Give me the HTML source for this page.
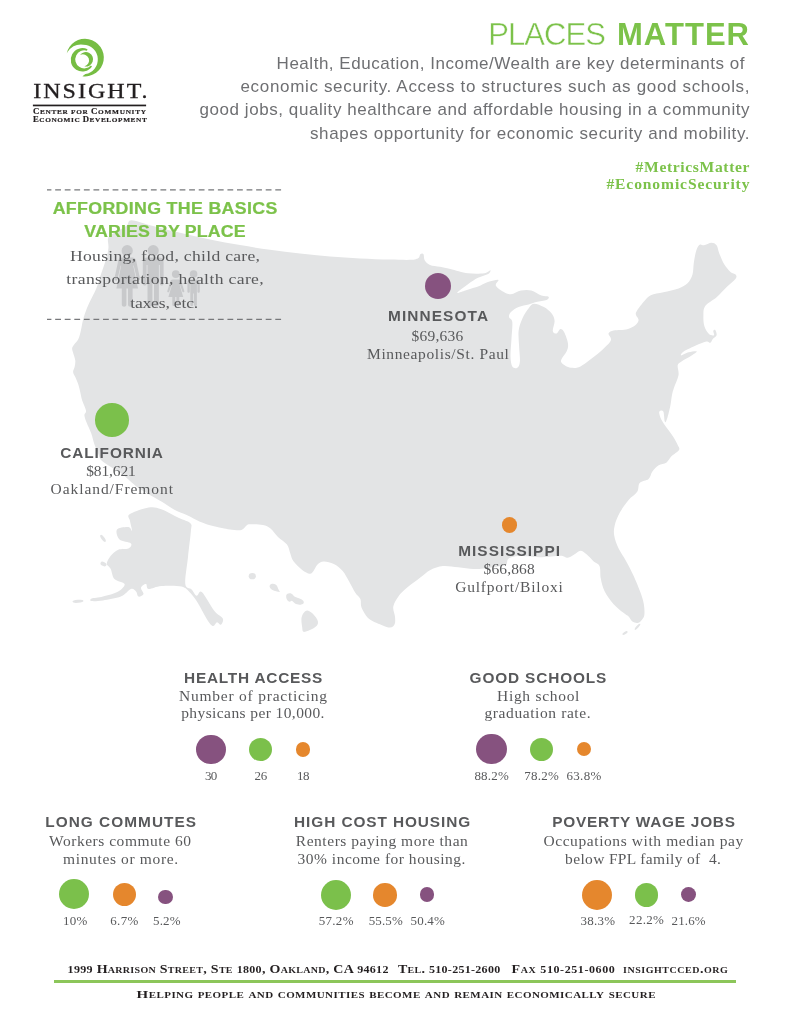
<!DOCTYPE html>
<html lang="en">
<head>
<meta charset="utf-8">
<title>Places Matter</title>
<style>
html,body{margin:0;padding:0;background:#fff;}
body{width:790px;height:1024px;position:relative;overflow:hidden;font-family:"Liberation Sans",sans-serif;color:#58595b;}
.abs{position:absolute;white-space:nowrap;}
.sans{font-family:"Liberation Sans",sans-serif;}
.serif{font-family:"Liberation Serif",serif;}
#map{position:absolute;left:0;top:0;width:790px;height:1024px;}
.intro{color:#6e6f72;}
.hdc{color:#58595b;}
.tx{color:#58595b;}
.c{font-size:8.7px;}
.dg{font-size:0.86em;}
.dot{position:absolute;border-radius:50%;}
.g{background:#7bc04b;}.p{background:#86527f;}.o{background:#e5872d;}
</style>
</head>
<body>
<svg id="map" viewBox="0 0 790 1024">
  <g fill="#e3e4e5">
    <path d="M131.4 220.3C127.5 220.4 129.0 223.8 126.8 225.6C124.6 227.4 120.8 229.3 118.0 231.0C115.2 232.7 111.8 234.1 110.1 235.5C108.4 236.9 108.2 237.2 107.9 239.3C107.6 241.5 108.8 244.8 108.4 248.4C108.0 252.0 106.8 256.3 105.6 260.6C104.4 264.9 102.5 269.6 101.0 274.2C99.5 278.8 98.0 284.1 96.5 287.9C95.0 291.7 93.8 293.6 92.2 297.0C90.6 300.4 88.5 304.2 87.0 308.0C85.5 311.8 84.0 316.3 83.0 320.0C82.0 323.7 81.8 326.8 81.0 330.0C80.2 333.2 79.6 336.5 78.4 339.0C77.2 341.5 75.0 343.2 74.0 344.8C73.0 346.4 72.2 347.1 72.1 348.6C72.0 350.1 72.9 351.7 73.4 353.7C73.9 355.7 75.1 358.4 75.3 360.6C75.5 362.8 75.0 365.1 74.6 367.0C74.2 368.9 73.0 370.3 73.1 372.0C73.2 373.7 74.4 375.0 75.3 377.1C76.2 379.2 77.6 382.2 78.4 384.7C79.2 387.2 79.7 389.7 80.3 392.3C80.9 394.9 81.2 397.4 82.2 400.5C83.2 403.6 85.6 408.2 86.0 410.6C86.4 413.1 84.3 413.2 84.4 415.2C84.5 417.2 85.6 419.8 86.7 422.8C87.8 425.8 90.0 429.9 91.3 433.4C92.6 436.9 93.2 440.7 94.3 444.0C95.4 447.3 97.0 450.5 98.1 453.2C99.2 455.9 99.3 458.0 101.0 460.0C102.7 462.0 105.0 463.1 108.2 465.2C111.4 467.3 116.9 470.3 120.4 472.8C124.0 475.3 126.5 477.9 129.5 480.4C132.5 482.9 135.0 485.5 138.6 488.0C142.2 490.5 147.0 493.3 150.8 495.6C154.6 497.9 157.6 499.3 161.4 501.6C165.2 503.9 169.2 506.9 173.5 509.2C177.8 511.5 182.9 513.3 187.2 515.3C191.5 517.3 195.6 519.8 199.4 521.4C203.2 523.0 206.2 524.1 210.0 525.2C213.8 526.3 218.7 527.3 222.0 528.0C225.3 528.7 226.8 529.1 230.0 529.4C233.2 529.7 238.7 530.6 241.4 530.0C244.2 529.4 245.1 526.6 246.5 525.6C247.9 524.6 247.3 524.4 250.0 524.3C252.7 524.2 259.5 524.3 262.9 525.0C266.3 525.7 268.0 526.6 270.5 528.6C273.0 530.6 275.2 534.3 278.0 537.0C280.8 539.7 284.9 541.9 287.0 544.6C289.1 547.3 289.2 550.7 290.3 553.4C291.4 556.1 291.3 558.2 293.3 561.0C295.3 563.8 299.5 567.8 302.2 569.9C304.9 572.0 307.8 573.5 309.7 573.7C311.6 573.9 312.2 572.5 313.5 571.0C314.8 569.5 315.6 566.4 317.3 564.8C319.0 563.2 320.9 561.6 323.7 561.5C326.4 561.4 330.6 562.4 333.8 564.0C337.0 565.6 340.2 568.1 342.7 571.0C345.2 573.9 346.9 577.7 349.0 581.3C351.1 584.9 353.4 589.8 355.3 592.7C357.2 595.7 359.3 596.5 360.4 599.0C361.4 601.5 360.3 604.6 361.6 607.8C362.9 611.0 365.5 615.5 368.0 618.0C370.5 620.5 373.2 621.4 376.8 623.0C380.4 624.6 386.5 627.4 389.5 627.6C392.5 627.8 393.7 626.1 394.6 624.3C395.5 622.5 395.2 619.7 395.0 616.7C394.8 613.8 392.7 610.0 393.3 606.6C393.9 603.2 396.1 599.7 398.4 596.5C400.7 593.3 403.5 590.8 407.2 587.6C410.9 584.4 416.4 580.5 420.3 577.5C424.2 574.5 426.6 571.8 430.4 569.9C434.2 568.0 438.4 566.4 443.0 566.0C447.6 565.6 453.1 566.8 458.2 567.3C463.3 567.8 469.2 568.8 473.4 569.0C477.6 569.2 478.9 569.1 483.5 568.6C488.1 568.1 497.5 566.6 501.3 566.0C505.1 565.4 505.2 565.8 506.3 564.8C507.4 563.8 506.8 561.0 507.6 559.7C508.5 558.4 509.1 557.8 511.4 557.2C513.7 556.6 516.4 556.0 521.5 556.0C526.6 556.0 535.3 557.2 541.8 557.2C548.3 557.2 556.0 555.7 560.3 555.8C564.6 555.9 565.5 558.0 567.8 557.8C570.1 557.6 572.1 555.8 574.2 554.6C576.3 553.4 578.4 550.8 580.5 550.8C582.6 550.8 584.7 552.9 586.8 554.6C588.9 556.3 591.1 559.0 593.2 560.9C595.3 562.8 598.2 563.0 599.5 566.0C600.8 569.0 599.9 574.4 600.8 578.6C601.6 582.8 602.5 587.1 604.6 591.3C606.7 595.5 610.2 600.3 613.4 603.9C616.5 607.5 621.0 610.7 623.5 612.8C626.0 614.9 627.1 615.1 628.6 616.6C630.1 618.1 630.9 620.6 632.4 621.6C633.9 622.6 636.0 623.1 637.5 622.9C639.0 622.7 640.2 621.7 641.3 620.4C642.4 619.1 643.9 618.0 644.3 615.3C644.7 612.5 644.5 607.9 643.8 603.9C643.1 599.9 641.7 595.9 640.0 591.3C638.3 586.6 636.0 581.1 633.7 576.0C631.4 570.9 628.5 565.5 626.0 560.9C623.5 556.3 620.5 552.4 618.5 548.2C616.5 544.0 614.8 539.4 614.2 535.6C613.6 531.8 613.8 529.2 614.7 525.4C615.6 521.6 617.4 517.0 619.7 512.8C622.0 508.6 625.7 503.5 628.6 500.0C631.5 496.5 635.4 494.7 637.2 491.8C639.1 488.9 637.8 485.0 639.7 482.9C641.6 480.8 646.5 480.9 648.6 479.0C650.7 477.1 650.7 473.8 652.4 471.5C654.1 469.2 656.4 466.7 658.7 465.2C661.0 463.7 664.2 464.2 666.3 462.7C668.4 461.2 669.3 458.4 671.4 456.3C673.5 454.2 678.0 451.9 679.0 450.0C680.0 448.1 678.8 447.2 677.7 444.9C676.7 442.6 674.6 438.9 672.7 436.0C670.8 433.1 668.2 429.9 666.3 427.2C664.4 424.5 662.5 422.1 661.3 419.6C660.1 417.1 658.9 413.4 659.2 412.0C659.5 410.6 662.4 409.9 663.3 411.5C664.2 413.1 664.2 420.1 664.8 421.5C665.4 422.9 665.9 422.0 666.8 419.6C667.7 417.2 669.2 411.0 670.1 407.0C671.0 403.0 671.3 398.8 671.9 395.6C672.5 392.4 672.8 391.4 673.9 388.0C675.0 384.6 677.9 379.1 678.5 375.3C679.1 371.5 677.2 367.5 677.7 365.2C678.2 362.9 679.2 363.0 681.5 361.4C683.8 359.8 689.1 357.2 691.6 355.5C694.1 353.8 697.2 351.9 696.7 351.3C696.2 350.8 691.3 351.5 688.7 352.2C686.1 352.9 681.9 355.5 681.1 355.4C680.3 355.3 681.2 353.3 683.7 351.6C686.2 349.9 692.5 347.0 696.3 345.3C700.1 343.6 704.2 341.9 706.5 341.5C708.8 341.1 709.2 343.2 710.3 342.8C711.3 342.4 711.8 340.3 712.8 339.0C713.8 337.7 716.2 336.7 716.6 335.2C717.0 333.7 715.8 330.8 715.3 330.1C714.8 329.4 713.5 330.1 713.3 331.0C713.1 331.9 714.7 334.7 714.0 335.2C713.3 335.7 710.6 335.5 709.0 334.0C707.4 332.5 705.3 329.3 704.4 326.3C703.5 323.3 703.3 319.6 703.4 316.2C703.5 312.8 703.0 309.2 705.2 306.0C707.4 302.8 713.0 300.4 716.6 297.2C720.2 294.0 723.5 290.1 726.7 287.0C729.9 283.9 734.1 280.8 735.6 278.7C737.1 276.6 736.5 275.5 735.6 274.4C734.8 273.3 732.4 273.6 730.5 271.9C728.6 270.2 726.1 267.5 724.2 264.3C722.3 261.1 720.4 256.1 719.1 252.9C717.8 249.7 717.9 247.0 716.6 245.3C715.3 243.6 713.6 242.8 711.5 242.8C709.4 242.8 705.9 245.0 704.0 245.3C702.1 245.6 701.3 243.8 700.0 244.6C698.7 245.4 697.3 247.3 696.3 250.4C695.3 253.5 694.4 259.0 693.8 263.0C693.2 267.0 693.5 271.0 692.5 274.4C691.5 277.8 689.8 281.0 687.5 283.3C685.2 285.6 682.6 286.9 678.6 288.4C674.6 289.9 668.0 291.1 663.4 292.2C658.8 293.3 654.0 293.7 650.8 295.2C647.6 296.7 646.7 298.4 644.4 301.0C642.1 303.6 638.2 308.7 636.8 311.0C635.4 313.3 635.7 313.5 636.0 315.0C636.3 316.5 638.7 318.3 638.6 320.0C638.5 321.7 637.4 323.5 635.6 325.0C633.8 326.5 630.5 328.1 628.0 328.9C625.5 329.7 622.8 329.7 620.4 330.0C618.0 330.3 615.5 329.9 613.5 330.5C611.5 331.1 608.9 331.9 608.5 333.5C608.1 335.1 611.6 337.6 611.0 339.9C610.4 342.2 607.4 344.8 604.7 347.5C602.0 350.2 598.0 353.6 594.6 356.3C591.2 359.0 587.4 362.0 584.4 363.9C581.4 365.8 579.5 367.2 576.8 367.7C574.1 368.2 570.5 367.8 568.0 367.0C565.5 366.2 562.7 364.1 561.6 362.7C560.5 361.3 560.8 360.8 561.6 358.9C562.5 357.0 565.6 353.8 566.7 351.3C567.8 348.8 568.4 346.9 568.0 343.7C567.6 340.5 565.5 334.8 564.2 332.3C562.9 329.9 561.7 328.8 560.4 329.0C559.1 329.2 557.9 333.2 556.6 333.5C555.3 333.8 553.1 333.1 552.8 331.0C552.5 328.9 554.8 323.8 554.6 320.9C554.4 317.9 553.3 315.6 551.5 313.3C549.7 311.0 546.9 308.6 543.9 307.0C540.9 305.4 536.3 303.5 533.8 303.7C531.3 303.9 530.6 305.8 528.7 308.2C526.8 310.6 524.1 314.6 522.4 318.4C520.7 322.2 519.1 326.4 518.6 331.0C518.1 335.6 518.9 341.1 519.1 346.2C519.3 351.3 520.2 357.8 519.9 361.4C519.6 365.0 518.6 366.8 517.3 367.7C516.0 368.6 513.4 368.4 512.3 366.5C511.2 364.6 510.6 360.9 510.5 356.3C510.4 351.7 511.2 344.3 511.5 338.6C511.8 332.9 512.7 325.6 512.3 322.0C511.9 318.4 509.2 318.7 509.0 317.0C508.8 315.3 509.4 313.7 511.0 312.0C512.6 310.3 515.6 308.3 518.6 307.0C521.6 305.7 525.8 305.2 528.7 304.4C531.7 303.5 533.3 302.6 536.3 301.9C539.3 301.2 544.5 300.9 546.5 300.0C548.5 299.1 549.4 297.5 548.5 296.8C547.6 296.1 544.3 296.7 541.4 295.6C538.5 294.6 534.7 291.4 531.3 290.5C527.9 289.6 524.4 289.9 521.0 290.5C517.6 291.1 513.9 294.1 511.0 294.3C508.1 294.5 505.9 293.3 503.4 291.8C500.9 290.3 496.6 287.4 495.8 285.4C495.0 283.4 499.4 280.5 498.4 279.9C497.3 279.3 492.5 280.7 489.5 281.6C486.5 282.5 483.4 284.3 480.6 285.4C477.9 286.5 475.5 287.1 473.0 288.0C470.5 288.9 468.0 289.7 465.4 290.5C462.8 291.3 456.8 293.8 457.2 292.7C457.6 291.6 464.5 286.7 468.0 284.2C471.5 281.7 474.6 279.5 478.0 277.8C481.4 276.1 486.1 275.2 488.2 274.0C490.2 272.8 490.9 270.4 490.3 270.3C489.7 270.2 488.1 272.8 484.4 273.3C480.7 273.8 473.7 274.0 468.0 273.3C462.3 272.6 455.0 270.1 450.3 269.0C445.6 267.9 443.4 267.5 440.0 266.8C436.6 266.1 432.5 266.1 430.0 265.0C427.5 263.9 425.9 262.3 424.8 260.5C423.7 258.7 424.2 255.2 423.5 254.2C422.8 253.1 421.1 253.6 420.3 254.2C419.5 254.8 419.9 257.1 418.5 258.0C417.1 258.9 416.8 259.5 412.0 259.8C407.2 260.1 398.7 259.8 390.0 259.6C381.3 259.4 370.0 259.0 360.0 258.5C350.0 258.0 340.0 257.3 330.0 256.5C320.0 255.7 310.0 254.7 300.0 253.6C290.0 252.5 280.0 251.2 270.0 249.8C260.0 248.4 250.0 246.8 240.0 245.1C230.0 243.4 220.0 241.4 210.0 239.4C200.0 237.4 190.0 235.2 180.0 232.8C170.0 230.5 158.1 227.4 150.0 225.3C141.9 223.2 135.3 220.2 131.4 220.3Z"/>
    <path d="M129.6 514.3C132.7 512.0 143.3 508.4 148.6 507.5C153.9 506.6 156.2 507.4 161.3 509.2C166.4 510.9 174.2 515.7 179.0 518.0C183.8 520.3 188.4 521.1 190.4 523.2C192.4 525.3 191.3 525.2 190.9 530.8C190.5 536.4 188.9 548.1 188.0 557.0C187.1 565.9 184.7 578.6 185.3 584.0C185.9 589.4 189.7 587.4 191.6 589.4C193.5 591.4 195.0 595.3 196.7 595.7C198.4 596.1 198.9 589.5 201.8 592.0C204.8 594.5 210.9 606.5 214.4 610.9C217.9 615.3 221.7 616.2 222.8 618.5C223.9 620.8 221.8 624.2 220.8 624.8C219.8 625.4 218.3 622.1 217.0 622.3C215.7 622.5 214.7 626.2 213.2 626.0C211.7 625.8 210.5 624.8 208.0 621.0C205.5 617.2 200.9 608.0 198.0 603.3C195.1 598.6 193.2 595.8 190.4 593.0C187.7 590.2 186.3 587.7 181.5 586.5C176.7 585.3 166.8 585.6 161.3 586.0C155.8 586.4 151.2 589.3 148.6 589.0C146.0 588.7 147.3 584.2 146.0 584.0C144.7 583.8 141.4 586.0 141.0 587.7C140.6 589.4 143.9 592.5 143.5 594.0C143.1 595.5 139.8 597.0 138.5 596.6C137.2 596.2 137.3 592.8 136.0 591.5C134.7 590.2 133.4 588.1 130.9 589.0C128.4 589.9 125.5 594.7 120.8 596.6C116.1 598.5 107.9 599.7 103.0 600.4C98.1 601.1 93.5 601.3 91.6 601.0C89.7 600.7 89.7 599.3 91.6 598.6C93.5 597.9 98.6 597.8 103.0 596.6C107.4 595.4 114.6 593.6 118.2 591.5C121.8 589.4 125.2 586.1 124.6 584.0C124.0 581.9 116.7 581.4 114.4 578.9C112.1 576.4 111.9 571.2 110.6 568.7C109.3 566.2 106.8 565.8 106.8 563.7C106.8 561.6 108.7 558.3 110.6 556.0C112.5 553.7 115.2 551.0 118.2 549.7C121.2 548.5 126.3 549.5 128.4 548.5C130.5 547.5 132.4 544.9 130.9 543.4C129.4 541.9 121.8 541.9 119.5 539.6C117.2 537.3 115.5 531.6 117.0 529.5C118.5 527.4 125.9 526.8 128.4 527.0C130.9 527.2 131.7 531.8 132.0 530.8C132.3 529.8 130.4 523.8 130.0 521.0C129.6 518.2 126.5 516.5 129.6 514.3Z"/>
    <ellipse cx="103" cy="538.4" rx="1.6" ry="4.2" transform="rotate(-35 103 538.4)"/>
    <ellipse cx="103.5" cy="564" rx="3.2" ry="2" transform="rotate(25 103.5 564)"/>
    <ellipse cx="78" cy="601.3" rx="5.5" ry="1.5" transform="rotate(-5 78 601.3)"/>
    <!-- Hawaii -->
    <ellipse cx="252.3" cy="576.2" rx="3.6" ry="3.1"/>
    <path d="M269.8 585.2C271.5 583 276 583.3 277.3 586.5C278 588.5 279 590.5 280 592C277.5 591.8 274.5 591.2 272.5 590C270.3 588.8 269 587 269.8 585.2Z"/>
    <path d="M286.2 595.5C286.8 592.6 291.5 592.3 293 595C294 596.8 296.5 597.6 299.5 598.6C303 599.8 304.6 601.5 303.6 603.3C302.3 605.2 297.5 605.2 295 603.6C293.3 602.3 292.5 600.6 291.3 600.9C290.3 601.2 290 602 288.8 601.6C287 600.6 285.8 597.8 286.2 595.5Z"/>
    <path d="M307.2 610.4C310 610.6 313.5 614 316 617.5C318.2 620.6 318.8 623 317 625.5C314.5 628.6 309 630.6 305.2 631.8C303.4 632.2 302.4 631.6 302.4 629.5C302.4 627 301.2 622.5 301.4 619C301.7 615 304.5 610.4 307.2 610.4Z"/>
    <!-- Florida keys -->
    <ellipse cx="637.5" cy="626.8" rx="4" ry="1.1" transform="rotate(-48 637.5 626.8)"/>
    <ellipse cx="625" cy="633" rx="3" ry="1.2" transform="rotate(-30 625 633)"/>
  </g>
</svg>
<svg class="abs" style="left:0;top:0" width="200" height="140" viewBox="0 0 200 140">
<g fill="#76bd43">
<path d="M66.7 53.4A18.8 18.8 0 1 1 82.4 76.2L85.4 74.1A14.8 14.8 0 0 0 83.4 44.7A16.5 16.5 0 0 0 67.7 51.8Z"/>
<path d="M87.5 49.3A11.7 11.7 0 1 0 92 66.5L90.9 65.5A9 9 0 1 1 87 50.8Z"/>
<path d="M80 55A7.25 7.25 0 1 1 84.3 66.4A6.15 6.15 0 1 0 80 55Z"/>
</g>
<rect x="32.9" y="104.6" width="113.2" height="1.7" fill="#231f20"/>
</svg>
<div class="abs serif " style="left:33.20px;top:78.28px;font-size:24.00px;line-height:31px;letter-spacing:2.026px;color:#231f20;-webkit-text-stroke:0.35px #231f20;transform:scaleY(0.850);transform-origin:0 0;">INSIGHT.</div>
<div class="abs serif " style="left:32.90px;top:108.23px;font-size:7.30px;line-height:9px;letter-spacing:0.703px;color:#231f20;font-weight:700;-webkit-text-stroke:0.2px #231f20;transform:scaleY(0.860);transform-origin:0 0;"><span class="c">C</span>ENTER FOR <span class="c">C</span>OMMUNITY</div>
<div class="abs serif " style="left:32.90px;top:116.23px;font-size:7.30px;line-height:9px;letter-spacing:0.589px;color:#231f20;font-weight:700;-webkit-text-stroke:0.2px #231f20;transform:scaleY(0.860);transform-origin:0 0;"><span class="c">E</span>CONOMIC <span class="c">D</span>EVELOPMENT</div>
<div class="abs sans " style="left:488.20px;top:14.75px;font-size:31.00px;line-height:40px;letter-spacing:-0.929px;color:#7cc24a;-webkit-text-stroke:0.45px #fff;">PLACES</div>
<div class="abs sans " style="left:617.00px;top:14.75px;font-size:31.00px;line-height:40px;letter-spacing:1.028px;color:#7cc24a;font-weight:700;">MATTER</div>
<div class="abs sans intro" style="left:276.60px;top:52.75px;font-size:17.00px;line-height:22px;letter-spacing:0.522px;">Health, Education, Income/Wealth are key determinants of</div>
<div class="abs sans intro" style="left:240.50px;top:75.75px;font-size:17.00px;line-height:22px;letter-spacing:0.662px;">economic security. Access to structures such as good schools,</div>
<div class="abs sans intro" style="left:199.50px;top:98.75px;font-size:17.00px;line-height:22px;letter-spacing:0.563px;">good jobs, quality healthcare and affordable housing in a community</div>
<div class="abs sans intro" style="left:310.00px;top:122.75px;font-size:17.00px;line-height:22px;letter-spacing:0.596px;">shapes opportunity for economic security and mobility.</div>
<div class="abs serif " style="left:635.60px;top:158.76px;font-size:15.60px;line-height:20px;letter-spacing:0.637px;font-weight:700;color:#7cc24a;transform:scaleY(0.870);transform-origin:0 0;">#MetricsMatter</div>
<div class="abs serif " style="left:606.40px;top:175.76px;font-size:15.60px;line-height:20px;letter-spacing:0.877px;font-weight:700;color:#7cc24a;transform:scaleY(0.870);transform-origin:0 0;">#EconomicSecurity</div>
<svg class="abs" style="left:0;top:0" width="300" height="330" viewBox="0 0 300 330">
<g stroke="#77787b" stroke-width="1.2" stroke-dasharray="5.8 3.77" stroke-dashoffset="1.4" fill="none">
<path d="M47 189.8H282"/><path d="M47 319.4H282"/></g>
<g fill="#c8c9cb">
<circle cx="127.2" cy="250.7" r="5.6"/>
<path d="M122.2 257.6H132.2C134.2 257.6 135.6 258.8 136.1 260.6L140 278.6C140.4 280.6 137.6 281.4 137 279.4L133.7 265.5H133.2L138 288.6H132.6V304.8C132.6 307.4 128 307.4 128 304.8V288.6H126.4V304.8C126.4 307.4 121.8 307.4 121.8 304.8V288.6H116.4L121.2 265.5H120.7L117.4 279.4C116.8 281.4 114 280.6 114.4 278.6L118.3 260.6C118.8 258.8 120.2 257.6 122.2 257.6Z"/>
<circle cx="153.2" cy="250.7" r="5.6"/>
<path d="M147.6 257.6H158.8C161.8 257.6 163.6 259.6 163.6 262.4V283.4C163.6 286.2 159.8 286.2 159.8 283.4V265H158.9V304.4C158.9 307.4 154 307.4 154 304.4V283H152.4V304.4C152.4 307.4 147.5 307.4 147.5 304.4V265H146.6V283.4C146.6 286.2 142.8 286.2 142.8 283.4V262.4C142.8 259.6 144.6 257.6 147.6 257.6Z"/>
<circle cx="175.8" cy="274.1" r="3.9"/>
<path d="M172.9 279.6H178.7C180.1 279.6 180.9 280.3 181.3 281.5L184.3 291C184.7 292.3 182.8 292.9 182.4 291.7L180.1 285H179.7L183.2 296.9H179.3V304.6C179.3 306.6 176.4 306.6 176.4 304.6V296.9H175.2V304.6C175.2 306.6 172.3 306.6 172.3 304.6V296.9H168.4L171.9 285H171.5L169.2 291.7C168.8 292.9 166.9 292.3 167.3 291L170.3 281.5C170.7 280.3 171.5 279.6 172.9 279.6Z"/>
<circle cx="193.6" cy="274.1" r="3.8"/>
<path d="M190.4 279.6H196.8C198.6 279.6 199.8 280.8 199.8 282.6V291.4C199.8 293.2 197.4 293.2 197.4 291.4V284H196.9V304.4C196.9 306.6 194 306.6 194 304.4V293.5H193.2V304.4C193.2 306.6 190.3 306.6 190.3 304.4V284H189.8V291.4C189.8 293.2 187.4 293.2 187.4 291.4V282.6C187.4 280.8 188.6 279.6 190.4 279.6Z"/>
</g></svg>
<div class="abs sans " style="left:52.70px;top:197.80px;font-size:17.80px;line-height:23px;letter-spacing:0.330px;font-weight:700;color:#7cc24a;-webkit-text-stroke:0.25px #7cc24a;transform:scaleY(0.940);transform-origin:0 0;">AFFORDING THE BASICS</div>
<div class="abs sans " style="left:84.30px;top:220.80px;font-size:17.80px;line-height:23px;letter-spacing:0.142px;font-weight:700;color:#7cc24a;-webkit-text-stroke:0.25px #7cc24a;transform:scaleY(0.940);transform-origin:0 0;">VARIES BY PLACE</div>
<div class="abs serif tx" style="left:70.00px;top:245.85px;font-size:17.60px;line-height:23px;letter-spacing:0.291px;transform:scaleY(0.880);transform-origin:0 0;">Housing, food, child care,</div>
<div class="abs serif tx" style="left:66.30px;top:268.85px;font-size:17.60px;line-height:23px;letter-spacing:0.363px;transform:scaleY(0.880);transform-origin:0 0;">transportation, health care,</div>
<div class="abs serif tx" style="left:130.20px;top:292.85px;font-size:17.60px;line-height:23px;letter-spacing:-0.186px;transform:scaleY(0.880);transform-origin:0 0;">taxes, etc.</div>
<div class="dot p" style="left:425.10px;top:273.30px;width:26.20px;height:26.20px;"></div>
<div class="abs sans hdc" style="left:388.00px;top:306.68px;font-size:15.40px;line-height:20px;letter-spacing:1.100px;font-weight:700;transform:scaleY(0.940);transform-origin:0 0;">MINNESOTA</div>
<div class="abs serif tx" style="left:411.60px;top:327.30px;font-size:15.50px;line-height:20px;letter-spacing:0.221px;transform:scaleY(0.900);transform-origin:0 0;">$69,636</div>
<div class="abs serif tx" style="left:367.00px;top:345.30px;font-size:15.50px;line-height:20px;letter-spacing:0.624px;transform:scaleY(0.900);transform-origin:0 0;">Minneapolis/St. Paul</div>
<div class="dot g" style="left:95.10px;top:403.20px;width:33.60px;height:33.60px;"></div>
<div class="abs sans hdc" style="left:60.30px;top:443.68px;font-size:15.40px;line-height:20px;letter-spacing:0.855px;font-weight:700;transform:scaleY(0.940);transform-origin:0 0;">CALIFORNIA</div>
<div class="abs serif tx" style="left:86.20px;top:462.30px;font-size:15.50px;line-height:20px;letter-spacing:-0.129px;transform:scaleY(0.900);transform-origin:0 0;">$81,621</div>
<div class="abs serif tx" style="left:50.50px;top:480.30px;font-size:15.50px;line-height:20px;letter-spacing:0.940px;transform:scaleY(0.900);transform-origin:0 0;">Oakland/Fremont</div>
<div class="dot o" style="left:501.60px;top:517.20px;width:15.60px;height:15.60px;"></div>
<div class="abs sans hdc" style="left:458.20px;top:541.68px;font-size:15.40px;line-height:20px;letter-spacing:1.027px;font-weight:700;transform:scaleY(0.940);transform-origin:0 0;">MISSISSIPPI</div>
<div class="abs serif tx" style="left:483.50px;top:560.30px;font-size:15.50px;line-height:20px;letter-spacing:0.138px;transform:scaleY(0.900);transform-origin:0 0;">$66,868</div>
<div class="abs serif tx" style="left:455.20px;top:578.30px;font-size:15.50px;line-height:20px;letter-spacing:0.796px;transform:scaleY(0.900);transform-origin:0 0;">Gulfport/Biloxi</div>
<div class="abs sans hdc" style="left:184.00px;top:668.68px;font-size:15.40px;line-height:20px;letter-spacing:0.773px;font-weight:700;transform:scaleY(0.940);transform-origin:0 0;">HEALTH ACCESS</div>
<div class="abs serif tx" style="left:179.00px;top:687.30px;font-size:15.50px;line-height:20px;letter-spacing:0.772px;transform:scaleY(0.900);transform-origin:0 0;">Number of practicing</div>
<div class="abs serif tx" style="left:181.20px;top:704.30px;font-size:15.50px;line-height:20px;letter-spacing:0.406px;transform:scaleY(0.900);transform-origin:0 0;">physicans per 10,000.</div>
<div class="dot p" style="left:196.10px;top:734.80px;width:29.60px;height:29.60px;"></div>
<div class="dot g" style="left:249.30px;top:737.90px;width:23.20px;height:23.20px;"></div>
<div class="dot o" style="left:295.80px;top:742.40px;width:14.20px;height:14.20px;"></div>
<div class="abs serif tx" style="left:205.10px;top:768.16px;font-size:13.00px;line-height:17px;letter-spacing:-0.800px;transform:scaleY(0.930);transform-origin:0 0;">30</div>
<div class="abs serif tx" style="left:254.40px;top:768.16px;font-size:13.00px;line-height:17px;letter-spacing:-0.100px;transform:scaleY(0.930);transform-origin:0 0;">26</div>
<div class="abs serif tx" style="left:297.00px;top:768.16px;font-size:13.00px;line-height:17px;letter-spacing:-0.600px;transform:scaleY(0.930);transform-origin:0 0;">18</div>
<div class="abs sans hdc" style="left:469.60px;top:668.68px;font-size:15.40px;line-height:20px;letter-spacing:0.843px;font-weight:700;transform:scaleY(0.940);transform-origin:0 0;">GOOD SCHOOLS</div>
<div class="abs serif tx" style="left:497.00px;top:687.30px;font-size:15.50px;line-height:20px;letter-spacing:0.706px;transform:scaleY(0.900);transform-origin:0 0;">High school</div>
<div class="abs serif tx" style="left:484.50px;top:704.30px;font-size:15.50px;line-height:20px;letter-spacing:0.589px;transform:scaleY(0.900);transform-origin:0 0;">graduation rate.</div>
<div class="dot p" style="left:476.20px;top:734.10px;width:30.40px;height:30.40px;"></div>
<div class="dot g" style="left:529.70px;top:737.70px;width:23.60px;height:23.60px;"></div>
<div class="dot o" style="left:576.60px;top:742.10px;width:14.40px;height:14.40px;"></div>
<div class="abs serif tx" style="left:474.40px;top:768.16px;font-size:13.00px;line-height:17px;letter-spacing:0.202px;transform:scaleY(0.930);transform-origin:0 0;">88.2%</div>
<div class="abs serif tx" style="left:524.30px;top:768.16px;font-size:13.00px;line-height:17px;letter-spacing:0.252px;transform:scaleY(0.930);transform-origin:0 0;">78.2%</div>
<div class="abs serif tx" style="left:566.50px;top:768.16px;font-size:13.00px;line-height:17px;letter-spacing:0.302px;transform:scaleY(0.930);transform-origin:0 0;">63.8%</div>
<div class="abs sans hdc" style="left:45.30px;top:812.68px;font-size:15.40px;line-height:20px;letter-spacing:1.015px;font-weight:700;transform:scaleY(0.940);transform-origin:0 0;">LONG COMMUTES</div>
<div class="abs serif tx" style="left:49.00px;top:832.30px;font-size:15.50px;line-height:20px;letter-spacing:0.526px;transform:scaleY(0.900);transform-origin:0 0;">Workers commute 60</div>
<div class="abs serif tx" style="left:63.00px;top:850.30px;font-size:15.50px;line-height:20px;letter-spacing:0.642px;transform:scaleY(0.900);transform-origin:0 0;">minutes or more.</div>
<div class="dot g" style="left:59.30px;top:879.40px;width:30.00px;height:30.00px;"></div>
<div class="dot o" style="left:112.50px;top:882.70px;width:23.60px;height:23.60px;"></div>
<div class="dot p" style="left:158.10px;top:889.50px;width:14.60px;height:14.60px;"></div>
<div class="abs serif tx" style="left:63.00px;top:913.16px;font-size:13.00px;line-height:17px;letter-spacing:0.228px;transform:scaleY(0.930);transform-origin:0 0;">10%</div>
<div class="abs serif tx" style="left:110.30px;top:913.16px;font-size:13.00px;line-height:17px;letter-spacing:0.302px;transform:scaleY(0.930);transform-origin:0 0;">6.7%</div>
<div class="abs serif tx" style="left:152.90px;top:913.16px;font-size:13.00px;line-height:17px;letter-spacing:0.235px;transform:scaleY(0.930);transform-origin:0 0;">5.2%</div>
<div class="abs sans hdc" style="left:294.10px;top:812.68px;font-size:15.40px;line-height:20px;letter-spacing:0.906px;font-weight:700;transform:scaleY(0.940);transform-origin:0 0;">HIGH COST HOUSING</div>
<div class="abs serif tx" style="left:295.80px;top:832.30px;font-size:15.50px;line-height:20px;letter-spacing:0.535px;transform:scaleY(0.900);transform-origin:0 0;">Renters paying more than</div>
<div class="abs serif tx" style="left:297.50px;top:850.30px;font-size:15.50px;line-height:20px;letter-spacing:0.509px;transform:scaleY(0.900);transform-origin:0 0;">30% income for housing.</div>
<div class="dot g" style="left:320.60px;top:879.80px;width:30.00px;height:30.00px;"></div>
<div class="dot o" style="left:373.20px;top:883.00px;width:23.60px;height:23.60px;"></div>
<div class="dot p" style="left:419.70px;top:887.30px;width:14.80px;height:14.80px;"></div>
<div class="abs serif tx" style="left:318.70px;top:913.16px;font-size:13.00px;line-height:17px;letter-spacing:0.302px;transform:scaleY(0.930);transform-origin:0 0;">57.2%</div>
<div class="abs serif tx" style="left:368.70px;top:913.16px;font-size:13.00px;line-height:17px;letter-spacing:0.127px;transform:scaleY(0.930);transform-origin:0 0;">55.5%</div>
<div class="abs serif tx" style="left:410.50px;top:913.16px;font-size:13.00px;line-height:17px;letter-spacing:0.202px;transform:scaleY(0.930);transform-origin:0 0;">50.4%</div>
<div class="abs sans hdc" style="left:552.30px;top:812.68px;font-size:15.40px;line-height:20px;letter-spacing:0.746px;font-weight:700;transform:scaleY(0.940);transform-origin:0 0;">POVERTY WAGE JOBS</div>
<div class="abs serif tx" style="left:543.40px;top:832.30px;font-size:15.50px;line-height:20px;letter-spacing:0.586px;transform:scaleY(0.900);transform-origin:0 0;">Occupations with median pay</div>
<div class="abs serif tx" style="left:565.10px;top:850.30px;font-size:15.50px;line-height:20px;letter-spacing:0.341px;transform:scaleY(0.900);transform-origin:0 0;">below FPL family of&nbsp; 4.</div>
<div class="dot o" style="left:582.40px;top:879.80px;width:30.00px;height:30.00px;"></div>
<div class="dot g" style="left:634.70px;top:883.00px;width:23.60px;height:23.60px;"></div>
<div class="dot p" style="left:681.20px;top:887.40px;width:14.80px;height:14.80px;"></div>
<div class="abs serif tx" style="left:580.40px;top:913.16px;font-size:13.00px;line-height:17px;letter-spacing:0.302px;transform:scaleY(0.930);transform-origin:0 0;">38.3%</div>
<div class="abs serif tx" style="left:629.10px;top:912.16px;font-size:13.00px;line-height:17px;letter-spacing:0.302px;transform:scaleY(0.930);transform-origin:0 0;">22.2%</div>
<div class="abs serif tx" style="left:671.50px;top:913.16px;font-size:13.00px;line-height:17px;letter-spacing:0.152px;transform:scaleY(0.930);transform-origin:0 0;">21.6%</div>
<div class="abs serif " style="left:67.60px;top:961.64px;font-size:14.00px;line-height:18px;letter-spacing:0.293px;color:#231f20;font-variant:small-caps;font-weight:700;transform:scaleY(0.860);transform-origin:0 0;"><span class="dg">1999</span> Harrison Street, Ste <span class="dg">1800</span>, Oakland, CA <span class="dg">94612</span></div>
<div class="abs serif " style="left:397.90px;top:961.64px;font-size:14.00px;line-height:18px;letter-spacing:0.278px;color:#231f20;font-variant:small-caps;font-weight:700;transform:scaleY(0.860);transform-origin:0 0;">Tel. <span class="dg">510-251-2600</span></div>
<div class="abs serif " style="left:511.50px;top:961.64px;font-size:14.00px;line-height:18px;letter-spacing:0.575px;color:#231f20;font-variant:small-caps;font-weight:700;transform:scaleY(0.860);transform-origin:0 0;">Fax <span class="dg">510-251-0600</span></div>
<div class="abs serif " style="left:623.00px;top:961.64px;font-size:14.00px;line-height:18px;letter-spacing:0.528px;color:#231f20;font-variant:small-caps;font-weight:700;transform:scaleY(0.860);transform-origin:0 0;">insightcced.org</div>
<div class="abs" style="left:53.6px;top:980px;width:682.7px;height:2.6px;background:#8cc65a;"></div>
<div class="abs serif " style="left:136.60px;top:986.85px;font-size:15.00px;line-height:20px;letter-spacing:0.433px;color:#231f20;font-variant:small-caps;font-weight:700;transform:scaleY(0.760);transform-origin:0 0;">Helping people and communities become and remain economically secure</div>

</body>
</html>
